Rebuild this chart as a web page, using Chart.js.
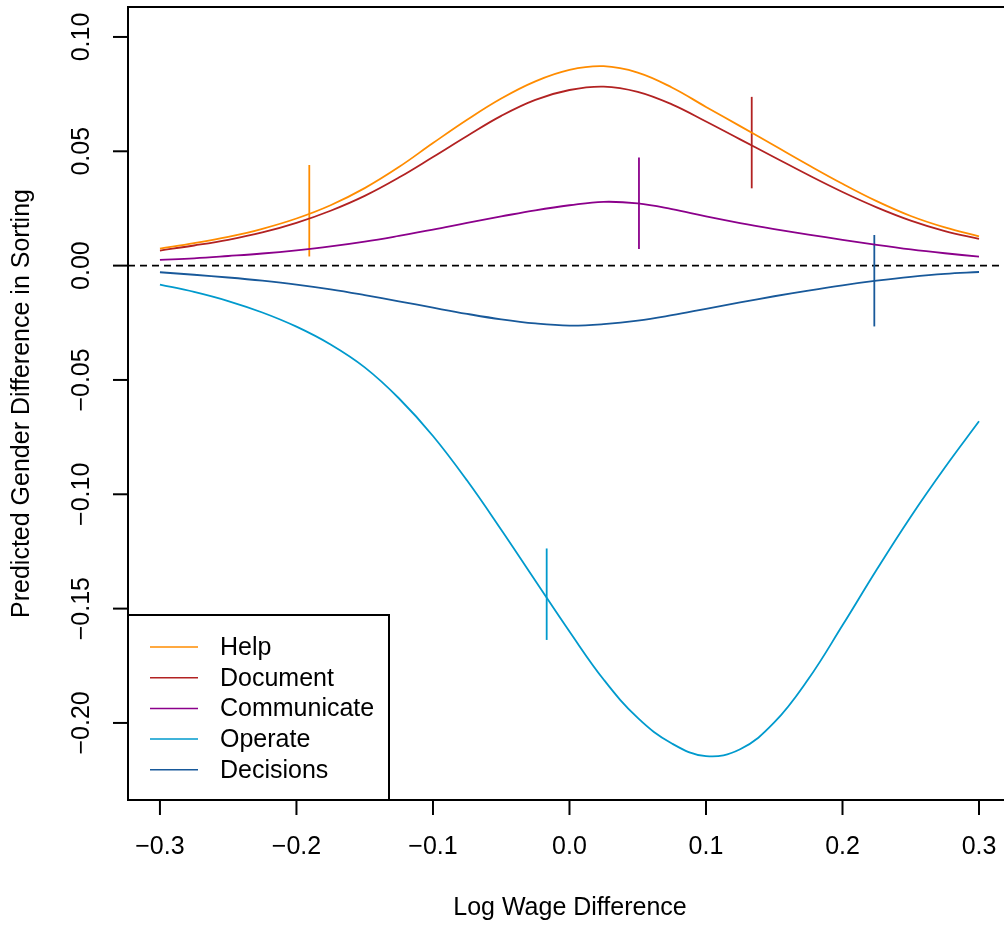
<!DOCTYPE html>
<html lang="en">
<head>
	<meta charset="UTF-8">
	<title>Predicted Gender Difference in Sorting</title>
	<script src="https://cdn.jsdelivr.net/npm/chart.js"></script>
	<style>
		body { margin: 0; background: #fff; }
		#wrap { width: 1004px; height: 927px; position: relative; }
	</style>
</head>
<body>
	<div id="wrap">
		<canvas id="chart"></canvas>
	</div>
	<script>
		// log wage difference grid
		const wageDiff = [-0.3, -0.275, -0.25, -0.225, -0.2, -0.175, -0.15, -0.125, -0.1, -0.075, -0.05, -0.025,
			0, 0.025, 0.05, 0.075, 0.1, 0.125, 0.15, 0.175, 0.2, 0.225, 0.25, 0.275, 0.3];

		const help = [0.0074, 0.0098, 0.0126, 0.0161, 0.0206, 0.0264, 0.0339, 0.0431, 0.0536, 0.0638, 0.0731, 0.0806,
			0.0856, 0.0872, 0.0844, 0.0779, 0.0694, 0.0610, 0.0525, 0.0440, 0.0358, 0.0282, 0.0217, 0.0167, 0.0128];
		const documentVals = [0.0066, 0.0088, 0.0113, 0.0145, 0.0187, 0.0240, 0.0305, 0.0385, 0.0475, 0.0567, 0.0655, 0.0725,
			0.0768, 0.0783, 0.0760, 0.0705, 0.0630, 0.0552, 0.0474, 0.0396, 0.0322, 0.0255, 0.0197, 0.0151, 0.0117];
		const communicate = [0.0025, 0.0032, 0.0042, 0.0053, 0.0067, 0.0084, 0.0105, 0.0130, 0.0157, 0.0187, 0.0215, 0.0242,
			0.0264, 0.0279, 0.0272, 0.0247, 0.0215, 0.0186, 0.0160, 0.0136, 0.0113, 0.0091, 0.0071, 0.0054, 0.0039];
		const operate = [-0.0083, -0.0115, -0.0155, -0.0205, -0.0267, -0.0345, -0.0445, -0.0580, -0.0745, -0.0940, -0.1155, -0.1378,
			-0.1600, -0.1810, -0.1978, -0.2090, -0.2145, -0.2115, -0.1998, -0.1808, -0.1573, -0.1330, -0.1098, -0.0883, -0.0681];
		const decisions = [-0.0029, -0.0040, -0.0052, -0.0066, -0.0083, -0.0104, -0.0129, -0.0156, -0.0184, -0.0211, -0.0235, -0.0253,
			-0.0262, -0.0256, -0.0241, -0.0217, -0.0189, -0.0161, -0.0134, -0.0109, -0.0086, -0.0066, -0.0049, -0.0036, -0.0028];

		const seriesNames = ['Help', 'Document', 'Communicate', 'Operate', 'Decisions'];
		const seriesColors = ['#FF8C00', '#B22222', '#8B008B', '#009ACD', '#18599A'];
		const seriesValues = [help, documentVals, communicate, operate, decisions];

		// mean wage difference per task and the predicted value there (segment = value +/- 0.02)
		const markX = [-0.1906, 0.1335, 0.0509, -0.0167, 0.2233];
		const markY = [0.0240, 0.0538, 0.0273, -0.1437, -0.0066];
		const markHalf = 0.02;

		const xTicks = [-0.3, -0.2, -0.1, 0, 0.1, 0.2, 0.3];
		const xTickLabels = ['\u22120.3', '\u22120.2', '\u22120.1', '0.0', '0.1', '0.2', '0.3'];
		const yTicks = [-0.2, -0.15, -0.1, -0.05, 0, 0.05, 0.1];
		const yTickLabels = ['\u22120.20', '\u22120.15', '\u22120.10', '\u22120.05', '0.00', '0.05', '0.10'];

		const FONT = '"Liberation Sans", Arial, Helvetica, sans-serif';

		let datasets = [];
		seriesValues.forEach(function(vals, i){
			datasets.push({
				label: seriesNames[i],
				data: wageDiff.map(function(x, j){ return {x: x, y: vals[j]}; }),
				borderColor: seriesColors[i],
				borderWidth: 1.8,
				showLine: true,
				pointRadius: 0,
				tension: 0.4
			});
		});
		markX.forEach(function(x, i){
			datasets.push({
				label: seriesNames[i] + ' mean',
				data: [{x: x, y: markY[i] - markHalf}, {x: x, y: markY[i] + markHalf}],
				borderColor: seriesColors[i],
				borderWidth: 1.8,
				showLine: true,
				pointRadius: 0
			});
		});

		// R style frame, axes, dashed zero line and legend
		const rAxes = {
			id: 'rAxes',
			beforeDatasetsDraw(chart){
				const ctx = chart.ctx, a = chart.chartArea, ys = chart.scales.y;
				const y0 = ys.getPixelForValue(0);
				ctx.save();
				ctx.strokeStyle = '#000';
				ctx.lineWidth = 1.8;
				ctx.setLineDash([7, 5]);
				ctx.beginPath();
				ctx.moveTo(a.left, y0);
				ctx.lineTo(a.right, y0);
				ctx.stroke();
				ctx.restore();
			},
			afterDraw(chart){
				const ctx = chart.ctx, a = chart.chartArea;
				const xs = chart.scales.x, ys = chart.scales.y;
				ctx.save();
				ctx.strokeStyle = '#000';
				ctx.fillStyle = '#000';
				ctx.lineWidth = 2;

				// box (right side lies past the canvas)
				ctx.beginPath();
				ctx.moveTo(a.right + 2, a.top);
				ctx.lineTo(a.left, a.top);
				ctx.lineTo(a.left, a.bottom);
				ctx.lineTo(a.right + 2, a.bottom);
				ctx.stroke();

				ctx.font = '25px ' + FONT;
				// x axis
				ctx.textAlign = 'center';
				ctx.textBaseline = 'middle';
				xTicks.forEach(function(v, i){
					const px = xs.getPixelForValue(v);
					ctx.beginPath();
					ctx.moveTo(px, a.bottom);
					ctx.lineTo(px, a.bottom + 15);
					ctx.stroke();
					ctx.fillText(xTickLabels[i], px, a.bottom + 47);
				});
				// y axis
				yTicks.forEach(function(v, i){
					const py = ys.getPixelForValue(v);
					ctx.beginPath();
					ctx.moveTo(a.left, py);
					ctx.lineTo(a.left - 15, py);
					ctx.stroke();
					ctx.save();
					ctx.translate(a.left - 46, py);
					ctx.rotate(-Math.PI / 2);
					ctx.fillText(yTickLabels[i], 0, 0);
					ctx.restore();
				});

				// axis titles
				ctx.fillText('Log Wage Difference', 570, 908);
				ctx.save();
				ctx.translate(22, (a.top + a.bottom) / 2);
				ctx.rotate(-Math.PI / 2);
				ctx.fillText('Predicted Gender Difference in Sorting', 0, 0);
				ctx.restore();

				// legend
				const lx = a.left, lTop = 615, lRight = 389;
				ctx.fillStyle = '#fff';
				ctx.fillRect(lx, lTop, lRight - lx, a.bottom - lTop);
				ctx.strokeRect(lx, lTop, lRight - lx, a.bottom - lTop);
				ctx.font = '25px ' + FONT;
				ctx.textAlign = 'left';
				seriesNames.forEach(function(name, i){
					const ry = 647 + i * 30.7;
					ctx.strokeStyle = seriesColors[i];
					ctx.lineWidth = 1.5;
					ctx.beginPath();
					ctx.moveTo(150, ry);
					ctx.lineTo(198, ry);
					ctx.stroke();
					ctx.fillStyle = '#000';
					ctx.fillText(name, 220, ry + 1);
				});
				ctx.restore();
			}
		};

		const chart = new Chart(document.getElementById('chart'), {
			type: 'scatter',
			data: { datasets: datasets },
			options: {
				responsive: true,
				maintainAspectRatio: false,
				animation: false,
				layout: { padding: { top: 7, right: 0, left: 0, bottom: 0 } },
				plugins: { legend: { display: false }, tooltip: { enabled: false } },
				scales: {
					x: {
						type: 'linear', min: -0.3234, max: 0.3183,
						grid: { display: false }, border: { display: false },
						ticks: { display: false },
						afterFit: function(s){ s.height = 127; }
					},
					y: {
						type: 'linear', min: -0.2337, max: 0.1131,
						grid: { display: false }, border: { display: false },
						ticks: { display: false },
						afterFit: function(s){ s.width = 128; }
					}
				}
			},
			plugins: [rAxes]
		});
	</script>
</body>
</html>
